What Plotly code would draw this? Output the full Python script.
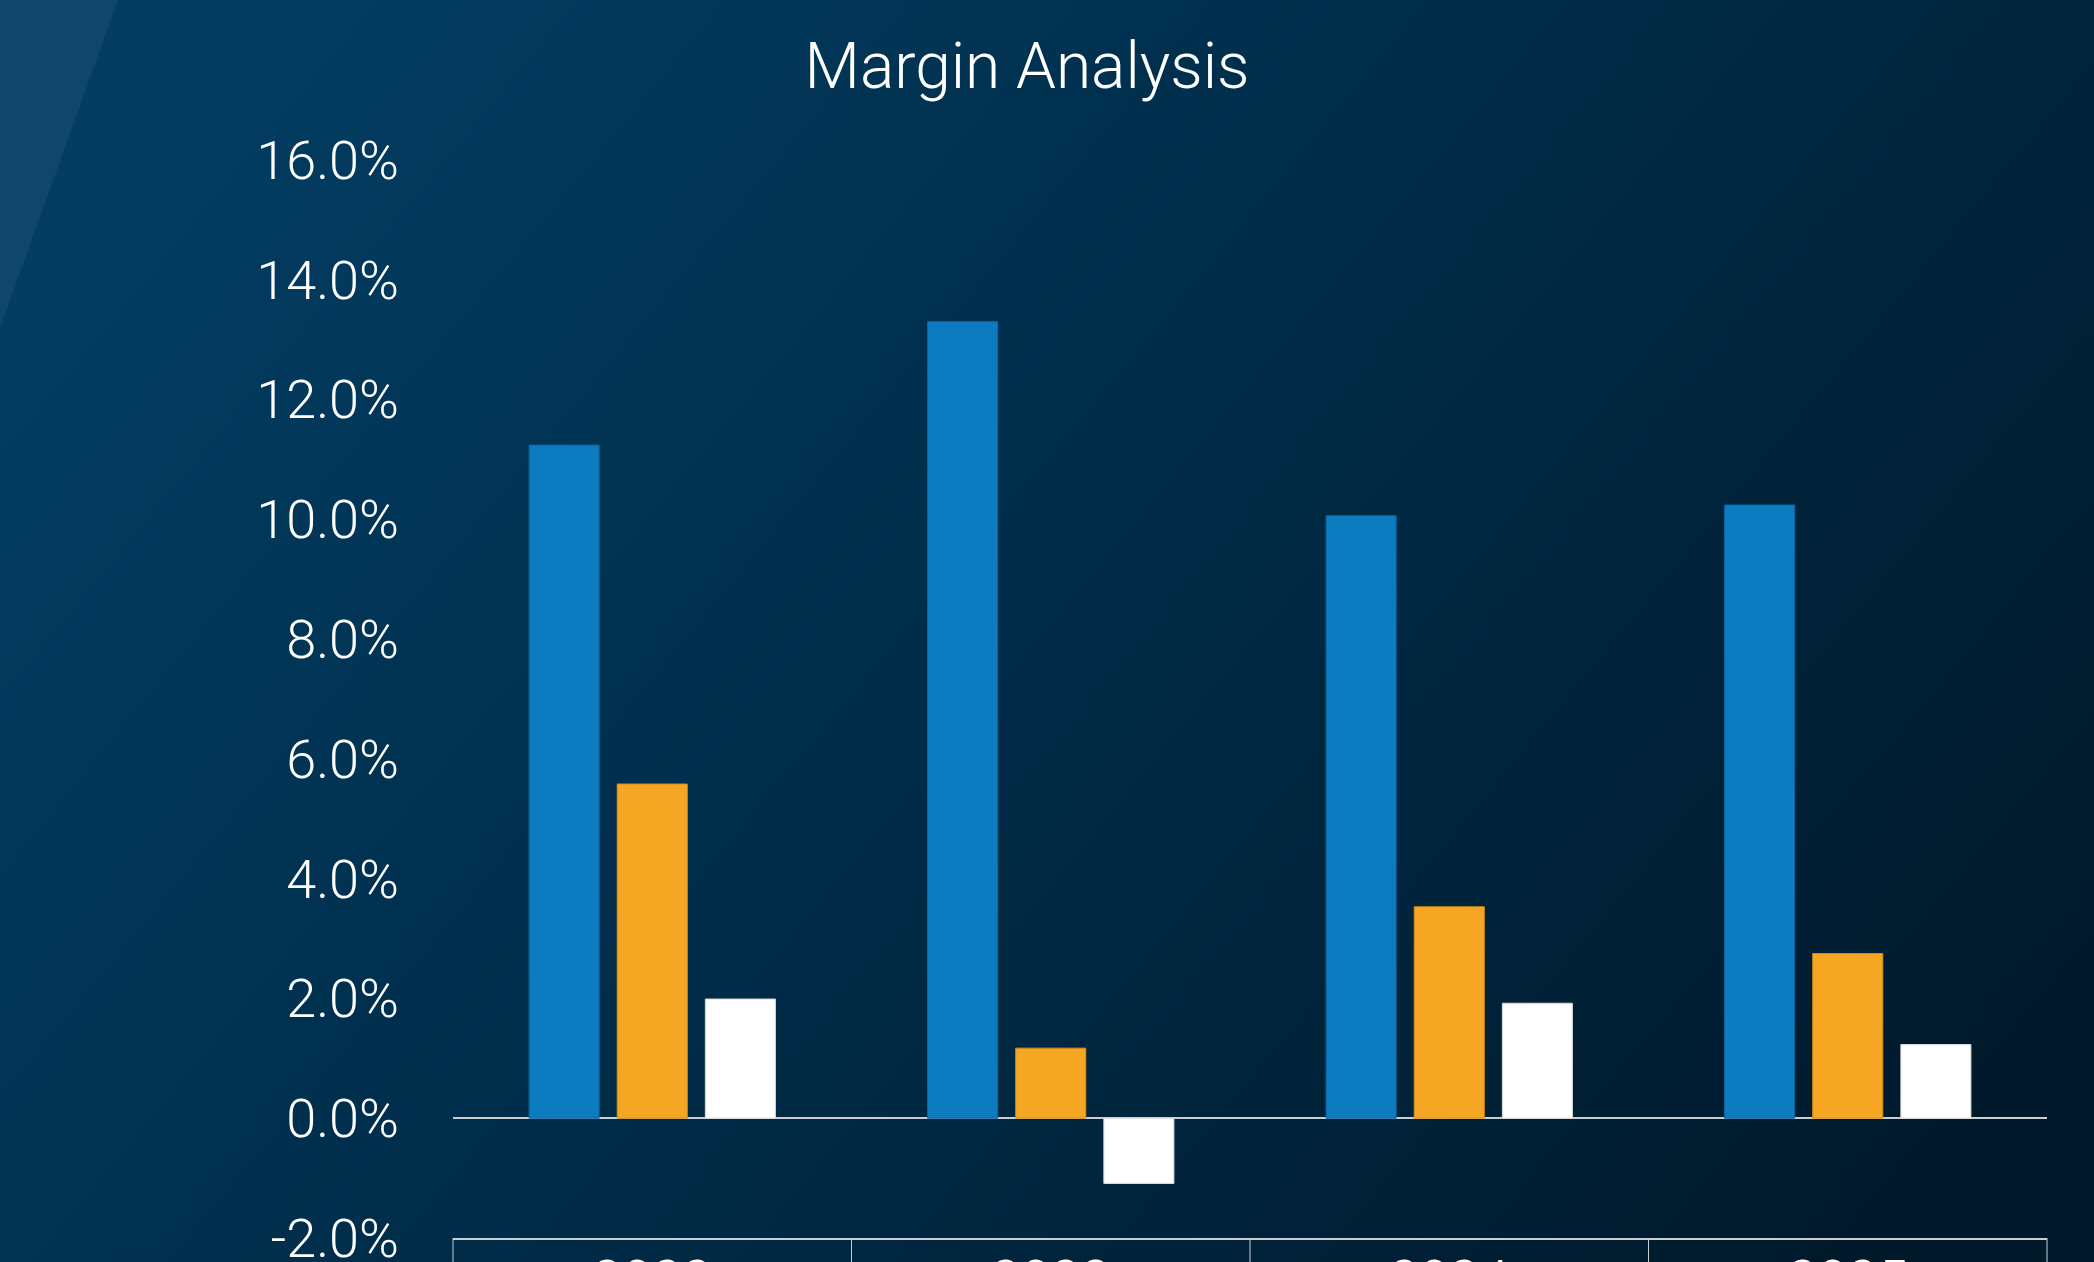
import base64
import plotly.graph_objects as go

# ---- data ----
categories = ["2022", "2023", "2024", "2025"]
gross_margin = [11.24, 13.30, 10.06, 10.24]
operating_margin = [5.58, 1.17, 3.53, 2.75]
net_margin = [1.99, -1.09, 1.92, 1.23]
y_ticks = [-2, 0, 2, 4, 6, 8, 10, 12, 14, 16]
y_tick_text = [f"{v:.1f}%" for v in y_ticks]

W, H = 2094, 1262
ML, MR, MT, MB = 453, 47, 160, 24
PW, PH = W - ML - MR, H - MT - MB

FONT = "Roboto"

def px_to_paper_x(px):
    return (px - ML) / PW

def px_to_paper_y(py):
    return 1 - (py - MT) / PH

fig = go.Figure()
series = [
    ("Gross Margin", gross_margin, "#0C7BC0", "#0A68A3"),
    ("Operating Margin", operating_margin, "#F5A623", "#D98F16"),
    ("Net Margin", net_margin, "#FFFFFF", "#D8D8D8"),
]
for name, vals, col, lc in series:
    fig.add_trace(go.Bar(
        x=categories, y=vals, name=name,
        marker=dict(color=col, line=dict(color=lc, width=1)),
    ))

# background gradient
svg = f"""<svg xmlns='http://www.w3.org/2000/svg' width='{W}' height='{H}' viewBox='0 0 {W} {H}' preserveAspectRatio='none'>
<defs><linearGradient id='g' x1='0' y1='0.25' x2='1' y2='0.75'>
<stop offset='0' stop-color='#033D62'/>
<stop offset='0.45' stop-color='#002D4A'/>
<stop offset='1' stop-color='#001A2C'/>
</linearGradient></defs>
<rect x='0' y='0' width='{W}' height='{H}' fill='url(#g)'/>
<polygon points='0,0 118,0 0,328' fill='#ffffff' fill-opacity='0.05'/>
</svg>"""
src = "data:image/svg+xml;base64," + base64.b64encode(svg.encode()).decode()

fig.update_layout(
    width=W, height=H,
    margin=dict(l=ML, r=MR, t=MT, b=MB, pad=0, autoexpand=False),
    paper_bgcolor="#002840",
    plot_bgcolor="rgba(0,0,0,0)",
    showlegend=False,
    barmode="group",
    bargap=0.3365,
    bargroupgap=0.205,
    font=dict(family=FONT, color="white", weight=300),
    title=dict(
        text="Margin Analysis",
        font=dict(family=FONT, size=64, color="white", weight=300),
        x=1027 / W, xanchor="center", xref="container",
        y=1 - 66 / H, yanchor="middle", yref="container",
    ),
    images=[dict(
        source=src, xref="paper", yref="paper",
        x=px_to_paper_x(0), y=px_to_paper_y(0),
        sizex=W / PW, sizey=H / PH,
        xanchor="left", yanchor="top", sizing="stretch", layer="below",
    )],
)

fig.update_yaxes(
    range=[-2, 16], automargin=False,
    tickvals=y_ticks, ticktext=y_tick_text,
    tickfont=dict(family=FONT, size=54, color="white", weight=300),
    showgrid=False,
    zeroline=True, zerolinecolor="#C9CED3", zerolinewidth=2,
    showline=False, ticks="",
    ticklabelstandoff=53, ticklabeloverflow="allow",
)
fig.update_xaxes(
    automargin=False,
    tickfont=dict(family=FONT, size=54, color="white", weight=300),
    showgrid=False,
    showline=True, linecolor="#C9CED3", linewidth=2,
    ticks="", ticklabelstandoff=-7, ticklabeloverflow="allow",
)

# category box dividers
for i in range(len(categories) + 1):
    xp = i / len(categories)
    fig.add_shape(type="line", xref="paper", yref="paper",
                  x0=xp, x1=xp, y0=0, y1=-0.1,
                  line=dict(color="#C9CED3", width=1))

fig.write_html("out.html", config={"displayModeBar": False},
               post_script="document.body.style.margin='0';")
